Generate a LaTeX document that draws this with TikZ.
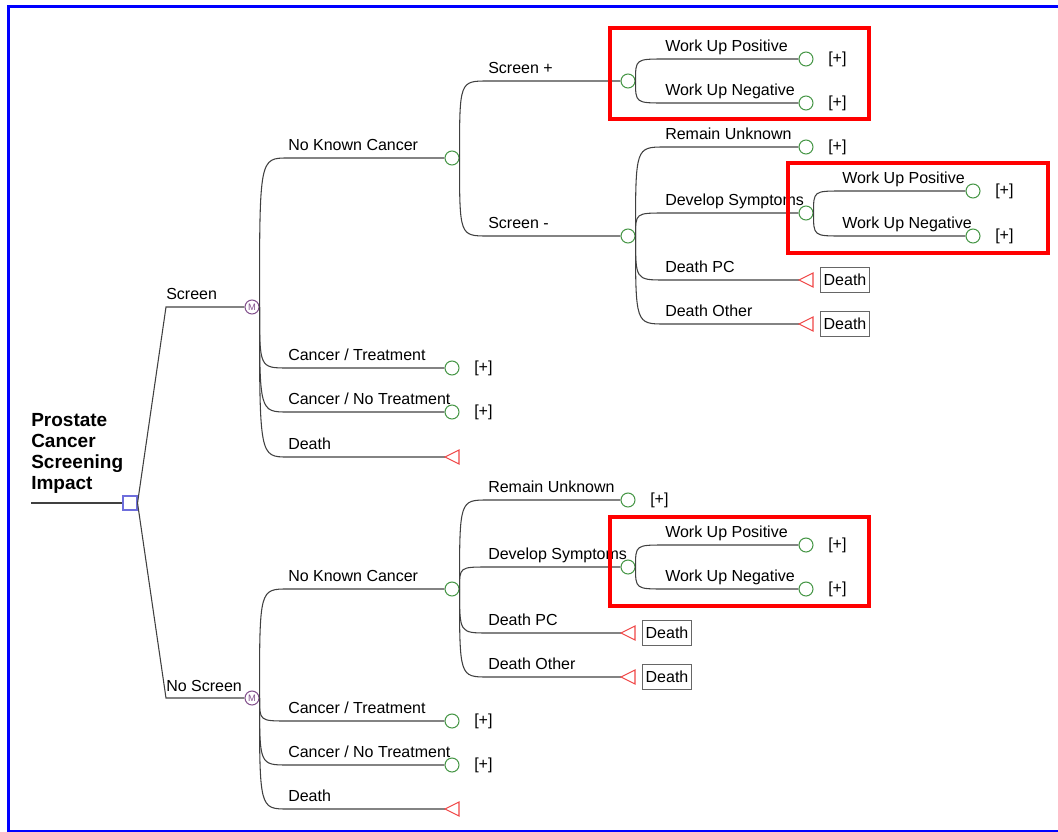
\documentclass[tikz,border=0pt]{standalone}
\usepackage{fontspec}
\setmainfont{Liberation Sans}
\definecolor{cgreen}{RGB}{70,150,70}
\definecolor{tred}{RGB}{240,70,70}
\definecolor{mpurple}{RGB}{130,80,140}
\definecolor{dblue}{RGB}{110,110,220}
\tikzset{
  ln/.style={draw=black!75, line width=0.8pt},
  chance/.style={circle, draw=cgreen, line width=0.8pt, minimum size=10.5pt, inner sep=0pt},
  markov/.style={circle, draw=mpurple, line width=0.8pt, minimum size=10.5pt, inner sep=0pt, font=\fontsize{7}{7}\selectfont, text=mpurple},
  decis/.style={rectangle, draw=dblue, line width=0.8pt, minimum size=10.5pt, inner sep=0pt},
  lbl/.style={anchor=base west, inner sep=0pt, font=\fontsize{12}{14}\selectfont},
  plus/.style={anchor=west, inner sep=0pt, font=\fontsize{12}{14}\selectfont},
  deathbox/.style={draw=black!60, line width=0.8pt, minimum width=36.75pt, minimum height=18.75pt, inner sep=1pt, font=\fontsize{12}{14}\selectfont, anchor=west},
  redbox/.style={draw=red, line width=2.4pt},
  termtri/.style={draw=tred, line width=0.8pt},
  titletext/.style={anchor=north west, inner sep=0pt, align=left, font=\fontsize{14.25}{15.75}\selectfont\bfseries},
}
\newcommand\brch[5]{%
  \draw[ln] (#1.east) .. controls (#1.east |- 0,#3) .. (#2,#3) -- (#4);
  \node[lbl] at (#2,#3-8) {#5};}
\newcommand\termmark[1]{\draw[termtri] (#1) -- ++(14,-7) -- ++(0,14) -- cycle;}
\begin{document}
\begin{tikzpicture}[x=0.75pt,y=-0.75pt]
\useasboundingbox (0,0) rectangle (1058,832);
% border
\draw[blue, line width=2.1pt] (1060,6.3) -- (8.6,6.3) -- (8.6,831) -- (1060,831);

% root
\node[titletext] (title) at (31,413) {Prostate\\Cancer\\Screening\\Impact};
\coordinate (rootin) at (31,503);
\node[decis] (root) at (130,503) {};
\draw[ln] (rootin) -- (root);
\node[markov] (m1) at (252,307) {M};
\node[markov] (m2) at (252,698) {M};
\draw[ln] (root.east) -- (166,307) -- (m1);
\node[lbl] at (166,299) {Screen};
\draw[ln] (root.east) -- (166,698) -- (m2);
\node[lbl] at (166,691) {No Screen};

% ---------- Screen subtree
\node[chance] (u1) at (452,158) {};
\node[chance] (u2) at (452,368) {};
\node[chance] (u3) at (452,412) {};
\coordinate (u4) at (445,457);
\brch{m1}{288}{158}{u1}{No Known Cancer}
\brch{m1}{288}{368}{u2}{Cancer / Treatment}
\brch{m1}{288}{412}{u3}{Cancer / No Treatment}
\brch{m1}{288}{457}{u4}{Death}
\node[plus] at (474,368) {[+]};
\node[plus] at (474,412) {[+]};
\termmark{u4}

\node[chance] (sp) at (628,81) {};
\node[chance] (sm) at (628,236) {};
\brch{u1}{488}{81}{sp}{Screen +}
\brch{u1}{488}{236}{sm}{Screen -}

\node[chance] (spa) at (806,59) {};
\node[chance] (spb) at (806,103) {};
\brch{sp}{665}{59}{spa}{Work Up Positive}
\brch{sp}{665}{103}{spb}{Work Up Negative}
\node[plus] at (828,59) {[+]};
\node[plus] at (828,103) {[+]};

\node[chance] (sma) at (806,147) {};
\node[chance] (smb) at (806,213) {};
\coordinate (smc) at (799,280);
\coordinate (smd) at (799,324);
\brch{sm}{665}{147}{sma}{Remain Unknown}
\brch{sm}{665}{280}{smc}{Death PC}
\brch{sm}{665}{324}{smd}{Death Other}
\node[plus] at (828,147) {[+]};
\termmark{smc}
\termmark{smd}
\node[deathbox] (dbu1) at (820,280) {Death};
\node[deathbox] (dbu2) at (820,324) {Death};

\node[chance] (smba) at (973,191) {};
\node[chance] (smbb) at (973,236) {};
\brch{smb}{842}{191}{smba}{Work Up Positive}
\brch{smb}{842}{236}{smbb}{Work Up Negative}
\node[plus] at (995,191) {[+]};
\node[plus] at (995,236) {[+]};
\brch{sm}{665}{213}{smb}{Develop Symptoms}

% ---------- No Screen subtree
\node[chance] (l1) at (452,589) {};
\node[chance] (l2) at (452,721) {};
\node[chance] (l3) at (452,765) {};
\coordinate (l4) at (445,809);
\brch{m2}{288}{589}{l1}{No Known Cancer}
\brch{m2}{288}{721}{l2}{Cancer / Treatment}
\brch{m2}{288}{765}{l3}{Cancer / No Treatment}
\brch{m2}{288}{809}{l4}{Death}
\node[plus] at (474,721) {[+]};
\node[plus] at (474,765) {[+]};
\termmark{l4}

\node[chance] (lr) at (628,500) {};
\node[chance] (ld) at (628,567) {};
\coordinate (lp) at (621,633);
\coordinate (lo) at (621,677);
\brch{l1}{488}{500}{lr}{Remain Unknown}
\brch{l1}{488}{633}{lp}{Death PC}
\brch{l1}{488}{677}{lo}{Death Other}
\node[plus] at (650,500) {[+]};
\termmark{lp}
\termmark{lo}
\node[deathbox] (dbl1) at (642,633) {Death};
\node[deathbox] (dbl2) at (642,677) {Death};

\node[chance] (lda) at (806,545) {};
\node[chance] (ldb) at (806,589) {};
\brch{ld}{665}{545}{lda}{Work Up Positive}
\brch{ld}{665}{589}{ldb}{Work Up Negative}
\node[plus] at (828,545) {[+]};
\node[plus] at (828,589) {[+]};
\brch{l1}{488}{567}{ld}{Develop Symptoms}

% red highlight boxes
\draw[redbox] (610,28) rectangle (869,119);
\draw[redbox] (788,163) rectangle (1048,253);
\draw[redbox] (610,517) rectangle (869,606);
\end{tikzpicture}
\end{document}
